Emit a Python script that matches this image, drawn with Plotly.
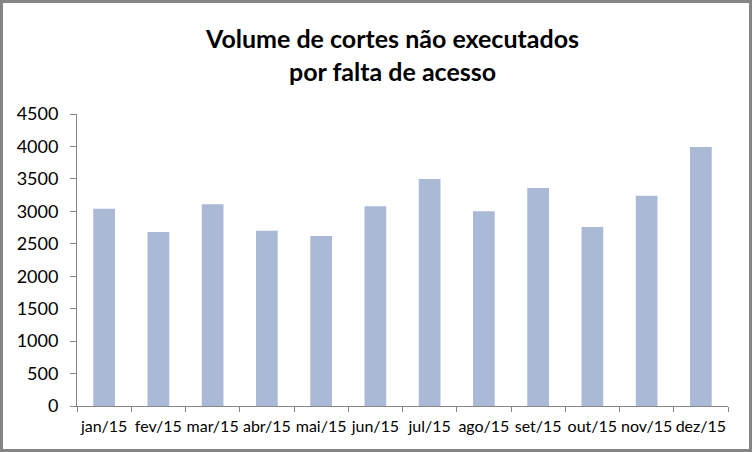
import plotly.graph_objects as go

categories = ["jan/15", "fev/15", "mar/15", "abr/15", "mai/15", "jun/15",
              "jul/15", "ago/15", "set/15", "out/15", "nov/15", "dez/15"]
values = [3040, 2680, 3110, 2700, 2620, 3080, 3500, 3000, 3360, 2760, 3240, 3990]
y_ticks = [0, 500, 1000, 1500, 2000, 2500, 3000, 3500, 4000, 4500]

W, H = 752, 452
L, R, T, B = 77, 24, 114, 46
pw, ph = W - L - R, H - T - B

fig = go.Figure(go.Bar(x=categories, y=values, marker=dict(color="#AAB9D6", line=dict(width=0))))

fig.update_layout(
    width=W, height=H,
    margin=dict(l=L, r=R, t=T, b=B, autoexpand=False),
    paper_bgcolor="white", plot_bgcolor="white",
    bargap=0.6,
    showlegend=False,
    font=dict(family="Lato", color="#000000"),
)
fig.add_annotation(text="<b>Volume de cortes não executados<br>por falta de acesso</b>",
                   xref="paper", yref="paper", x=(392 - L) / pw, y=(T + ph - 54) / ph,
                   xanchor="center", yanchor="middle", showarrow=False,
                   font=dict(family="Lato", size=25, color="#000000"))
fig.update_xaxes(showline=True, linecolor="#868686", linewidth=1, automargin=False,
                 ticks="outside", ticklen=5, tickcolor="#868686", tickangle=0,
                 ticklabelstandoff=6,
                 tickson="boundaries", tickfont=dict(size=16), showgrid=False)
fig.update_yaxes(range=[0, 4500], tickvals=y_ticks, showline=True, linecolor="#868686",
                 linewidth=1, ticks="outside", ticklen=6, tickcolor="#868686", automargin=False,
                 ticklabelstandoff=8,
                 tickfont=dict(size=18), showgrid=False, zeroline=False)

fig.add_shape(type="rect", xref="paper", yref="paper",
              x0=(1.5 - L) / pw, x1=(W - 1.5 - L) / pw,
              y0=-(H - 1.5 - (T + ph)) / ph, y1=(T + ph - 1.5) / ph,
              line=dict(color="#868686", width=3), layer="above")

fig.write_html("out.html")
